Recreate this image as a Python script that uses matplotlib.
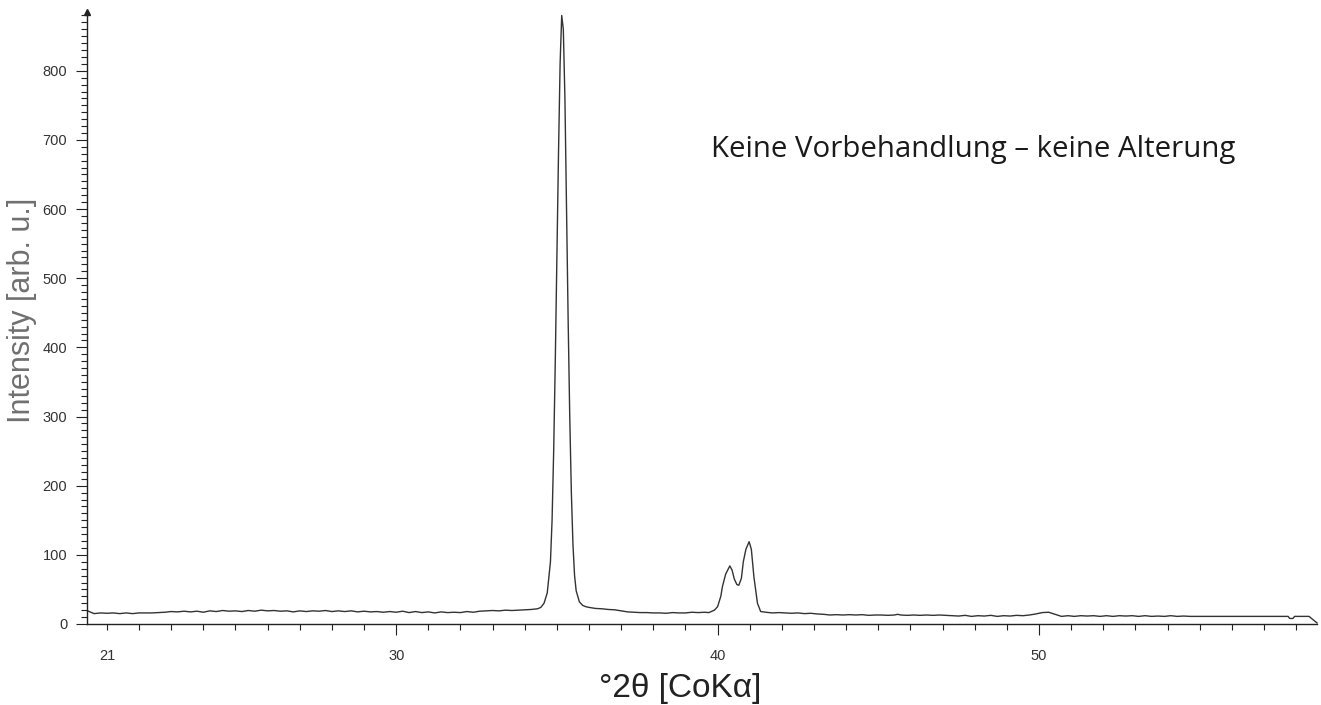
import matplotlib
matplotlib.use("Agg")
import matplotlib.pyplot as plt
from matplotlib.ticker import MultipleLocator, FixedLocator

# ---- data ----
two_theta = [
    20.40, 20.60, 20.80, 21.00, 21.20, 21.40, 21.60, 21.80, 22.00, 22.20,
    22.40, 22.60, 22.80, 23.00, 23.20, 23.40, 23.60, 23.80, 24.00, 24.20,
    24.40, 24.60, 24.80, 25.00, 25.20, 25.40, 25.60, 25.80, 26.00, 26.20,
    26.40, 26.60, 26.80, 27.00, 27.20, 27.40, 27.60, 27.80, 28.00, 28.20,
    28.40, 28.60, 28.80, 29.00, 29.20, 29.40, 29.60, 29.80, 30.00, 30.20,
    30.40, 30.60, 30.80, 31.00, 31.20, 31.40, 31.60, 31.80, 32.00, 32.20,
    32.40, 32.60, 32.80, 33.00, 33.20, 33.40, 33.60, 33.80, 34.00, 34.20,
    34.40, 34.50, 34.60, 34.70, 34.80, 34.85, 34.90, 34.95, 35.00, 35.05,
    35.10, 35.15, 35.20, 35.25, 35.30, 35.35, 35.40, 35.45, 35.50, 35.55,
    35.60, 35.70, 35.80, 35.90, 36.00, 36.20, 36.40, 36.60, 36.80, 37.00,
    37.20, 37.40, 37.60, 37.80, 38.00, 38.20, 38.40, 38.60, 38.80, 39.00,
    39.20, 39.40, 39.60, 39.73, 39.90, 40.00, 40.10, 40.15, 40.25, 40.38,
    40.45, 40.52, 40.60, 40.66, 40.74, 40.80, 40.88, 40.98, 41.05, 41.13,
    41.24, 41.34, 41.50, 41.70, 41.90, 42.10, 42.30, 42.50, 42.70, 42.90,
    43.10, 43.30, 43.50, 43.70, 43.90, 44.10, 44.30, 44.50, 44.70, 44.90,
    45.10, 45.30, 45.50, 45.60, 45.70, 45.90, 46.10, 46.30, 46.50, 46.70,
    46.90, 47.10, 47.30, 47.50, 47.70, 47.90, 48.10, 48.30, 48.50, 48.70,
    48.90, 49.10, 49.30, 49.50, 49.70, 49.90, 50.10, 50.30, 50.50, 50.70,
    50.90, 51.10, 51.30, 51.50, 51.70, 51.90, 52.10, 52.30, 52.50, 52.70,
    52.90, 53.10, 53.30, 53.50, 53.70, 53.90, 54.10, 54.30, 54.50, 54.70,
    54.90, 57.75, 57.80, 57.90, 57.95, 58.40, 58.65,
]
intensity = [
    19.0, 15.0, 16.0, 15.5, 16.0, 15.0, 16.0, 15.0, 16.0, 16.0,
    16.0, 16.5, 17.0, 18.0, 17.5, 18.5, 17.5, 18.5, 17.0, 19.0,
    18.0, 19.5, 18.5, 19.0, 18.0, 19.5, 18.5, 20.0, 19.0, 19.5,
    18.5, 19.0, 17.5, 19.0, 18.0, 19.0, 18.5, 19.5, 18.0, 19.0,
    18.0, 19.0, 17.5, 18.5, 17.5, 18.0, 17.0, 18.0, 17.0, 18.5,
    16.5, 18.0, 16.5, 17.5, 16.0, 17.5, 16.5, 17.0, 16.5, 18.0,
    17.0, 18.5, 19.0, 19.5, 19.0, 20.0, 19.5, 20.0, 20.5, 21.0,
    22.0, 24.0, 30.0, 45.0, 90.0, 150.0, 250.0, 380.0, 530.0, 680.0,
    810.0, 880.0, 860.0, 760.0, 600.0, 440.0, 300.0, 190.0, 115.0, 70.0,
    48.0, 32.0, 27.0, 25.0, 24.0, 22.5, 22.0, 21.0, 20.5, 19.0,
    17.5, 17.0, 16.5, 16.5, 16.0, 16.0, 15.5, 16.5, 16.0, 16.0,
    17.0, 16.5, 17.0, 16.5, 20.0, 25.0, 40.0, 54.0, 72.0, 84.0,
    78.0, 65.0, 57.0, 56.0, 66.0, 90.0, 108.0, 119.0, 108.0, 68.0,
    30.0, 18.0, 17.0, 16.0, 16.5, 16.0, 15.5, 16.0, 15.0, 15.5,
    14.5, 14.0, 13.0, 13.5, 13.0, 13.5, 13.0, 13.5, 12.5, 13.0,
    13.0, 12.5, 13.0, 14.0, 13.0, 12.5, 13.0, 12.5, 13.0, 12.5,
    13.0, 12.5, 12.0, 11.5, 12.5, 11.0, 12.0, 11.5, 12.5, 11.0,
    12.0, 11.5, 12.5, 12.0, 13.0, 14.5, 16.5, 17.0, 14.0, 11.0,
    12.0, 11.0, 12.0, 11.5, 12.0, 11.0, 12.0, 11.0, 12.0, 11.5,
    12.0, 11.0, 12.0, 11.0, 11.5, 11.0, 12.0, 11.0, 11.5, 11.0,
    11.0, 11.0, 8.0, 8.0, 11.0, 11.0, 1.5,
]

x_tick_values = [21, 30, 40, 50]
x_tick_labels = ["21", "30", "40", "50"]
y_tick_values = [0, 100, 200, 300, 400, 500, 600, 700, 800]
title_text = "Keine Vorbehandlung \u2013 keine Alterung"
x_label = "\u00b02\u03b8 [CoK\u03b1]"
y_label = "Intensity [arb. u.]"

# ---- figure ----
W, H = 1321, 705
fig = plt.figure(figsize=(W / 100, H / 100), dpi=100)
ax = fig.add_axes([0.0656, 0.1149, 0.9314, 0.8681])

ax.plot(two_theta, intensity, color="#333333", lw=1.0, clip_on=False)

ax.set_xlim(20.37, 58.65)
ax.set_ylim(0, 885)

for s in ("top", "right"):
    ax.spines[s].set_visible(False)
for s in ("left", "bottom"):
    ax.spines[s].set_linewidth(1.0)
    ax.spines[s].set_color("#222222")

tick_font = {"family": ["Liberation Sans", "DejaVu Sans"], "size": 10.5}
ax.xaxis.set_major_locator(FixedLocator(x_tick_values))
ax.set_xticklabels(x_tick_labels, fontdict=tick_font, color="#333333")
ax.xaxis.set_minor_locator(MultipleLocator(1))
ax.yaxis.set_major_locator(FixedLocator(y_tick_values))
ax.set_yticklabels([str(v) for v in y_tick_values], fontdict=tick_font, color="#333333")
ax.yaxis.set_minor_locator(MultipleLocator(10))

ax.tick_params(axis="x", which="major", direction="out", length=8, width=0.8,
               color="#222222", pad=10)
ax.tick_params(axis="x", which="minor", direction="out", length=4, width=0.8,
               color="#222222")
ax.tick_params(axis="y", which="major", direction="out", length=8, width=0.8,
               color="#222222", pad=6)
ax.tick_params(axis="y", which="minor", direction="out", length=4, width=0.8,
               color="#222222")
# the "21" tick is a short tick in the reference
ax.xaxis.get_major_ticks()[0].tick1line.set_markersize(4)

# arrow at the top of the y axis
ax.plot([0], [1], marker="^", ms=5, color="#222222", transform=ax.transAxes,
        clip_on=False)

fig.text(680 / W, 1 - 688 / H, x_label, family=["Liberation Sans", "DejaVu Sans"],
         fontsize=24, color="#222222", ha="center", va="center")
fig.text(22 / W, 1 - 310 / H, y_label, family=["Liberation Sans", "DejaVu Sans"],
         fontsize=22, color="#707070", ha="center", va="center", rotation=90)

ax.text(39.8, 686, title_text, family=["Open Sans", "DejaVu Sans"], fontsize=21.2,
        color="#1a1a1a", va="center", ha="left")

fig.savefig("out.png", dpi=100)
